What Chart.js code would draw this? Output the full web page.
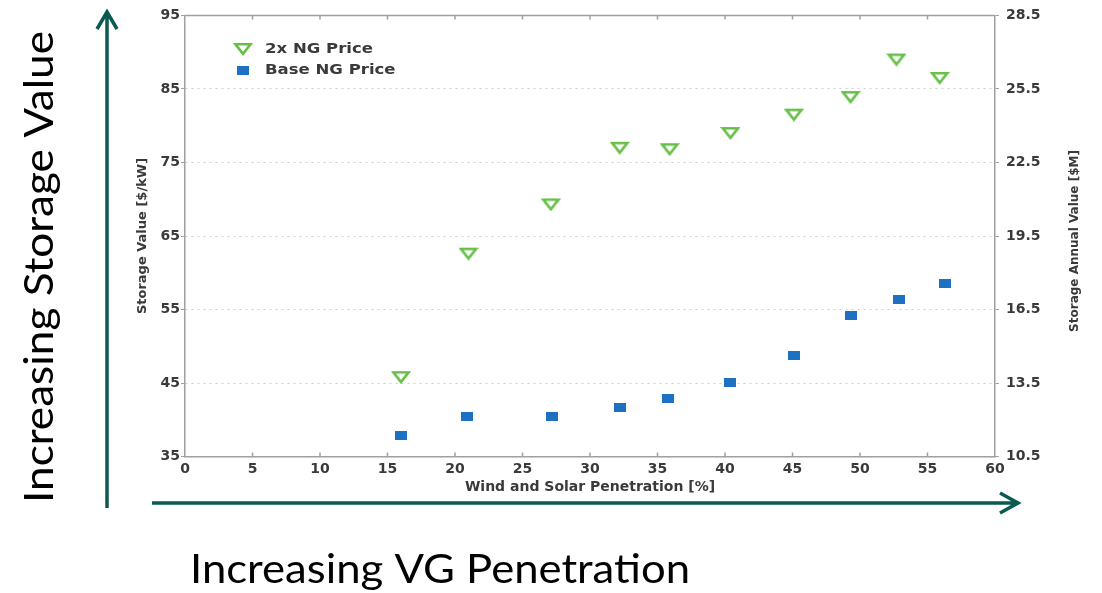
<!DOCTYPE html>
<html>
<head>
<meta charset="utf-8">
<script src="https://cdn.jsdelivr.net/npm/chart.js@4.4.1/dist/chart.umd.min.js"></script>
<style>
  html, body { margin: 0; padding: 0; background: #fff; overflow: hidden; }
  canvas { display: block; }
</style>
</head>
<body>
<canvas id="c" width="1102" height="593"></canvas>
<script>
// Storage value vs. wind + solar penetration, two natural-gas price cases
const penetration2x   = [16.0, 21.0, 27.1, 32.2, 35.9, 40.4, 45.1, 49.3, 52.7, 55.9];
const value2x         = [45.8, 62.6, 69.3, 77.0, 76.8, 79.0, 81.5, 83.9, 89.0, 86.5];
const penetrationBase = [16.0, 20.9, 27.2, 32.2, 35.8, 40.4, 45.1, 49.3, 52.9, 56.3];
const valueBase       = [37.9, 40.4, 40.4, 41.7, 42.9, 45.1, 48.7, 54.2, 56.3, 58.5];

const xTickValues  = [0, 5, 10, 15, 20, 25, 30, 35, 40, 45, 50, 55, 60];
const yTickValues  = [35, 45, 55, 65, 75, 85, 95];
const y2TickValues = [10.5, 13.5, 16.5, 19.5, 22.5, 25.5, 28.5];

const seriesNames = ['2x NG Price', 'Base NG Price'];
const xTitle  = 'Wind and Solar Penetration [%]';
const yTitle  = 'Storage Value [$/kW]';
const y2Title = 'Storage Annual Value [$M]';
const arrowUpText    = 'Increasing Storage Value';
const arrowRightText = 'Increasing VG Penetration';

const GREEN = '#68bf48';
const BLUE  = '#1e70c2';
const FRAME = '#a0a0a0';
const TEAL  = '#0b5a52';
const INK   = '#3a3a3a';
const TICK_FONT = { family: 'DejaVu Sans', size: 14, weight: 'bold' };

// marker glyphs: open down-pointing triangle and filled square
function triangleMarker() {
  const c = document.createElement('canvas');
  c.width = 20; c.height = 14;
  const g = c.getContext('2d');
  g.strokeStyle = GREEN; g.lineWidth = 2.6; g.lineJoin = 'miter';
  g.beginPath();
  g.moveTo(2.5, 2.3); g.lineTo(17.5, 2.3); g.lineTo(10, 11.8); g.closePath();
  g.stroke();
  return c;
}
function squareMarker() {
  const c = document.createElement('canvas');
  c.width = 12; c.height = 9;
  const g = c.getContext('2d');
  g.fillStyle = BLUE;
  g.fillRect(0, 0, 12, 9);
  return c;
}
const triImg = triangleMarker();
const sqImg = squareMarker();

const toPoints = (xs, ys) => xs.map((x, i) => ({ x: x, y: ys[i] }));
const fixedTicks = vals => scale => { scale.ticks = vals.map(v => ({ value: v })); };

const decor = {
  id: 'decor',
  afterDraw(chart) {
    const { ctx, chartArea: a, scales } = chart;
    ctx.save();

    // frame top edge and inward x ticks
    ctx.strokeStyle = FRAME; ctx.lineWidth = 1.5;
    ctx.beginPath();
    ctx.moveTo(a.left, a.top); ctx.lineTo(a.right, a.top);
    xTickValues.slice(1, -1).forEach(v => {
      const px = scales.x.getPixelForValue(v);
      ctx.moveTo(px, a.top); ctx.lineTo(px, a.top + 4);
      ctx.moveTo(px, a.bottom); ctx.lineTo(px, a.bottom - 4);
    });
    ctx.stroke();

    // right axis title, reading bottom to top
    ctx.save();
    ctx.translate(1075, (a.top + a.bottom) / 2 + 5);
    ctx.rotate(-Math.PI / 2);
    ctx.font = 'bold 12px "DejaVu Sans"';
    ctx.fillStyle = INK;
    ctx.textAlign = 'center'; ctx.textBaseline = 'middle';
    ctx.fillText(y2Title, 0, 0);
    ctx.restore();

    // legend inside the plot
    ctx.font = 'bold 14px "DejaVu Sans"';
    ctx.fillStyle = INK;
    ctx.textAlign = 'left'; ctx.textBaseline = 'middle';
    ctx.drawImage(triImg, 243 - triImg.width / 2, 49 - triImg.height / 2);
    ctx.drawImage(sqImg, 243 - sqImg.width / 2, 70 - sqImg.height / 2);
    [[seriesNames[0], 49], [seriesNames[1], 70]].forEach(([t, y]) => {
      ctx.save();
      ctx.translate(265, y);
      ctx.scale(1.18, 1);
      ctx.fillText(t, 0, 0);
      ctx.restore();
    });

    // direction arrows
    ctx.strokeStyle = TEAL; ctx.lineWidth = 3.5; ctx.lineCap = 'butt'; ctx.lineJoin = 'miter';
    ctx.beginPath();
    ctx.moveTo(107, 508); ctx.lineTo(107, 12);
    ctx.moveTo(97, 29); ctx.lineTo(107, 12); ctx.lineTo(117, 29);
    ctx.moveTo(152, 503); ctx.lineTo(1018, 503);
    ctx.moveTo(1000, 493); ctx.lineTo(1018, 503); ctx.lineTo(1000, 513);
    ctx.stroke();

    // arrow captions
    ctx.fillStyle = '#000';
    ctx.font = '40px Lato';
    ctx.textAlign = 'left'; ctx.textBaseline = 'alphabetic';
    ctx.save();
    ctx.translate(53, 503);
    ctx.rotate(-Math.PI / 2);
    ctx.scale(472 / ctx.measureText(arrowUpText).width, 1);
    ctx.fillText(arrowUpText, 0, 0);
    ctx.restore();
    ctx.save();
    ctx.translate(190, 583);
    ctx.scale(500 / ctx.measureText(arrowRightText).width, 1);
    ctx.fillText(arrowRightText, 0, 0);
    ctx.restore();

    ctx.restore();
  }
};

new Chart(document.getElementById('c'), {
  type: 'scatter',
  data: {
    datasets: [
      { label: seriesNames[0], data: toPoints(penetration2x, value2x), pointStyle: triImg, yAxisID: 'y', showLine: false },
      { label: seriesNames[1], data: toPoints(penetrationBase, valueBase), pointStyle: sqImg, yAxisID: 'y', showLine: false }
    ]
  },
  options: {
    responsive: false,
    devicePixelRatio: 1,
    animation: false,
    events: [],
    layout: { padding: { left: 135, right: 47, top: 15, bottom: 97 } },
    plugins: { legend: { display: false }, tooltip: { enabled: false } },
    scales: {
      x: {
        type: 'linear', min: 0, max: 60,
        afterBuildTicks: fixedTicks(xTickValues),
        afterFit: s => { s.height = 39.4; },
        grid: { display: false, drawTicks: false },
        border: { display: true, color: FRAME, width: 1.5 },
        ticks: { font: TICK_FONT, color: INK, padding: 4, maxRotation: 0, autoSkip: false },
        title: { display: true, text: xTitle, color: INK, padding: 0,
                 font: { family: 'DejaVu Sans', size: 14, weight: 'bold' } }
      },
      y: {
        type: 'linear', position: 'left', min: 35, max: 95,
        afterBuildTicks: fixedTicks(yTickValues),
        afterFit: s => { s.width = 50; },
        grid: { color: '#cfcfcf', lineWidth: 1, drawTicks: true, tickLength: 4,
                tickColor: FRAME, tickBorderDash: [] },
        border: { display: true, color: FRAME, width: 1.5, dash: [2, 4] },
        ticks: { font: TICK_FONT, color: INK, padding: 1, autoSkip: false },
        title: { display: true, text: yTitle, color: INK, padding: { top: 0, bottom: 0 },
                 font: { family: 'DejaVu Sans', size: 13, weight: 'bold' } }
      },
      y2: {
        type: 'linear', position: 'right', min: 10.5, max: 28.5,
        afterBuildTicks: fixedTicks(y2TickValues),
        afterFit: s => { s.width = 60; },
        grid: { drawOnChartArea: false, drawTicks: true, tickLength: 4, tickColor: FRAME },
        border: { display: true, color: FRAME, width: 1.5 },
        ticks: { font: TICK_FONT, color: INK, padding: 7, autoSkip: false,
                 callback: v => v.toFixed(1) },
        title: { display: false }
      }
    }
  },
  plugins: [decor]
});
</script>
</body>
</html>
